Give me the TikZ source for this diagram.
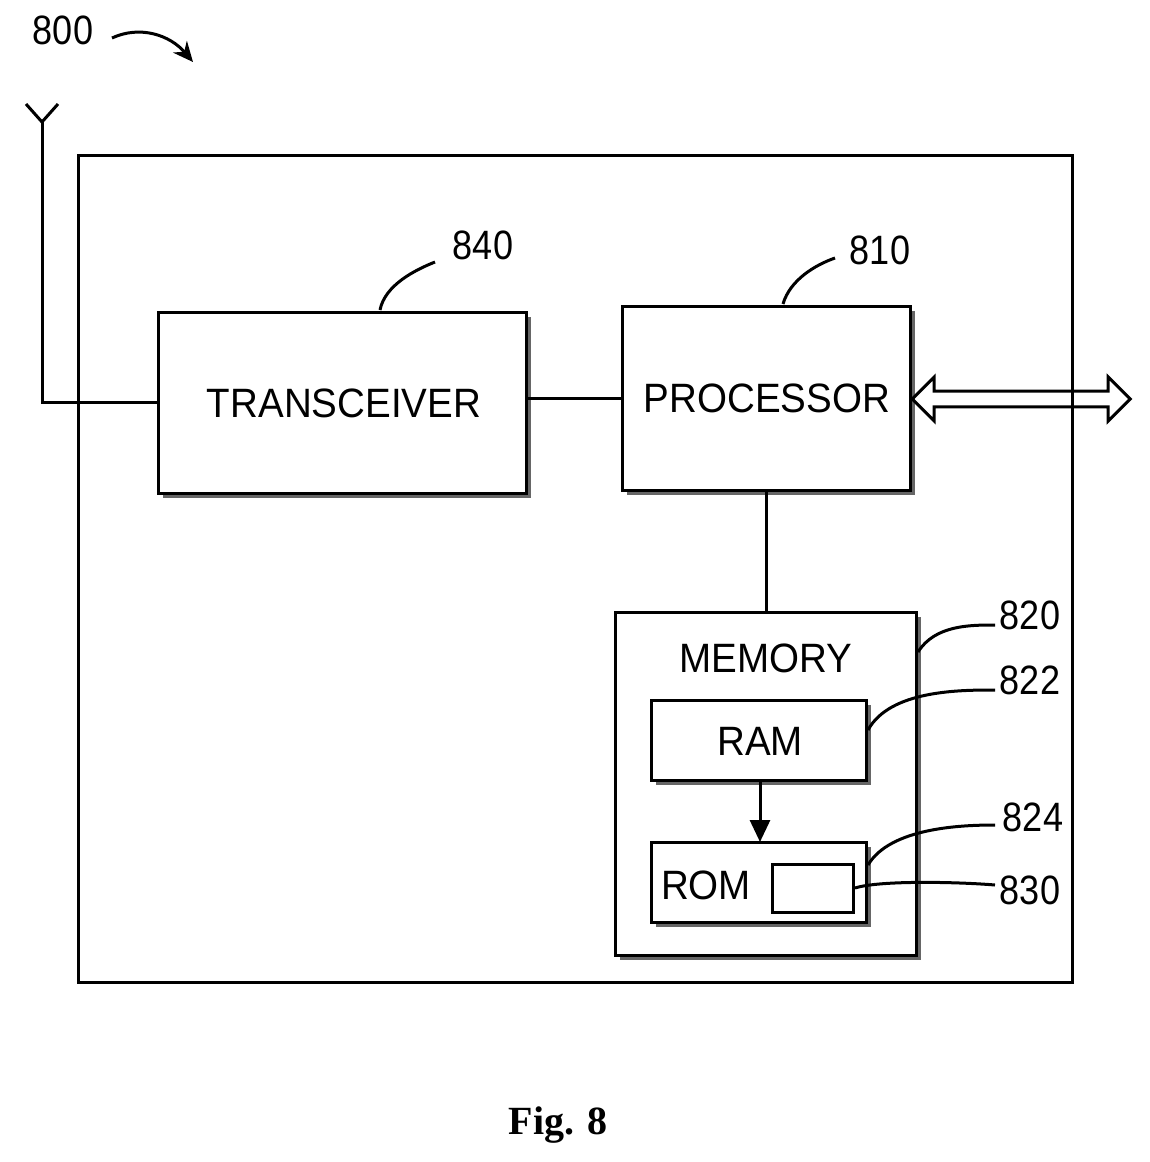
\documentclass[tikz,border=0pt]{standalone}
\usepackage{fontspec}
\setmainfont{Liberation Sans}
\newfontfamily\figfont{Liberation Serif}
\usetikzlibrary{arrows.meta,shapes.arrows}
\begin{document}
\begin{tikzpicture}[x=1pt,y=-1pt,
  box/.style={draw,line width=3pt,fill=white},
  shad/.style={fill=black!60,draw=none},
  lbl/.style={font=\fontsize{41}{41}\selectfont,xscale=0.94},
  num/.style={font=\fontsize{41}{41}\selectfont,xscale=0.88},
  lead/.style={line width=3pt}]
\useasboundingbox (0,0) rectangle (1150,1162);
% outer
\draw[line width=3pt] (78,155) rectangle (1072,982);
% antenna
\coordinate (at) at (42,122);
\draw[line width=3pt] (26,104) -- (at) -- (58,104);
\draw[line width=3pt] (at) -- (42,402) -- (158,402);
% transceiver
\fill[shad] (163,317) rectangle (531,498);
\draw[box] (158,312) rectangle (526,493);
\node[lbl] (tr) at (344,403) {TRANSCEIVER};
% processor
\fill[shad] (627,311) rectangle (915,495);
\draw[box] (622,306) rectangle (910,490);
\node[lbl] (pr) at (767,398) {PROCESSOR};
\draw[line width=3pt] (526,398) -- (622,398);
% double arrow
\node[draw,line width=3pt,double arrow,double arrow head extend=10pt,minimum height=218pt,minimum width=44pt,inner sep=4pt,anchor=west] (da) at (910,399) {};
\draw[line width=3pt] (766,490) -- (766,612);
% memory
\fill[shad] (620,617) rectangle (921,960);
\draw[box] (615,612) rectangle (916,955);
\node[lbl] (me) at (766,658) {MEMORY};
% RAM
\fill[shad] (656,705) rectangle (871,785);
\draw[box] (651,700) rectangle (866,780);
\node[lbl] (ra) at (760,741) {RAM};
% ROM
\fill[shad] (656,847) rectangle (871,927);
\draw[box] (651,842) rectangle (866,922);
\node[lbl] (ro) at (706,885) {ROM};
\draw[line width=3pt] (772,864) rectangle (853,912);
\draw[line width=3pt,-{Triangle[length=22pt,width=20pt]}] (760,780) -- (760,842);
% labels
\node[num] (n840) at (483,245) {840};
\draw[lead] (380,310) .. controls (385,285) and (415,270) .. (435,262);
\node[num] (n810) at (880,250) {810};
\draw[lead] (783,304) .. controls (790,280) and (815,265) .. (835,258);
\node[num] (n820) at (1030,615) {820};
\draw[lead] (918,652) .. controls (935,625) and (970,625) .. (995,625);
\node[num] (n822) at (1030,680) {822};
\draw[lead] (868,730) .. controls (890,690) and (960,690) .. (995,690);
\node[num] (n824) at (1033,817) {824};
\draw[lead] (868,865) .. controls (890,828) and (960,825) .. (995,825);
\node[num] (n830) at (1030,890) {830};
\draw[lead] (855,888) .. controls (880,880) and (960,882) .. (995,885);
\node[num] (n800) at (63,30) {800};
\draw[line width=3pt,-{Stealth[length=20pt,width=18pt]}] (112,38) .. controls (140,25) and (170,35) .. (193,62);
\node[font=\figfont\bfseries\fontsize{40}{40}\selectfont] (fig) at (558,1125) {Fig. 8};
\end{tikzpicture}
\end{document}
